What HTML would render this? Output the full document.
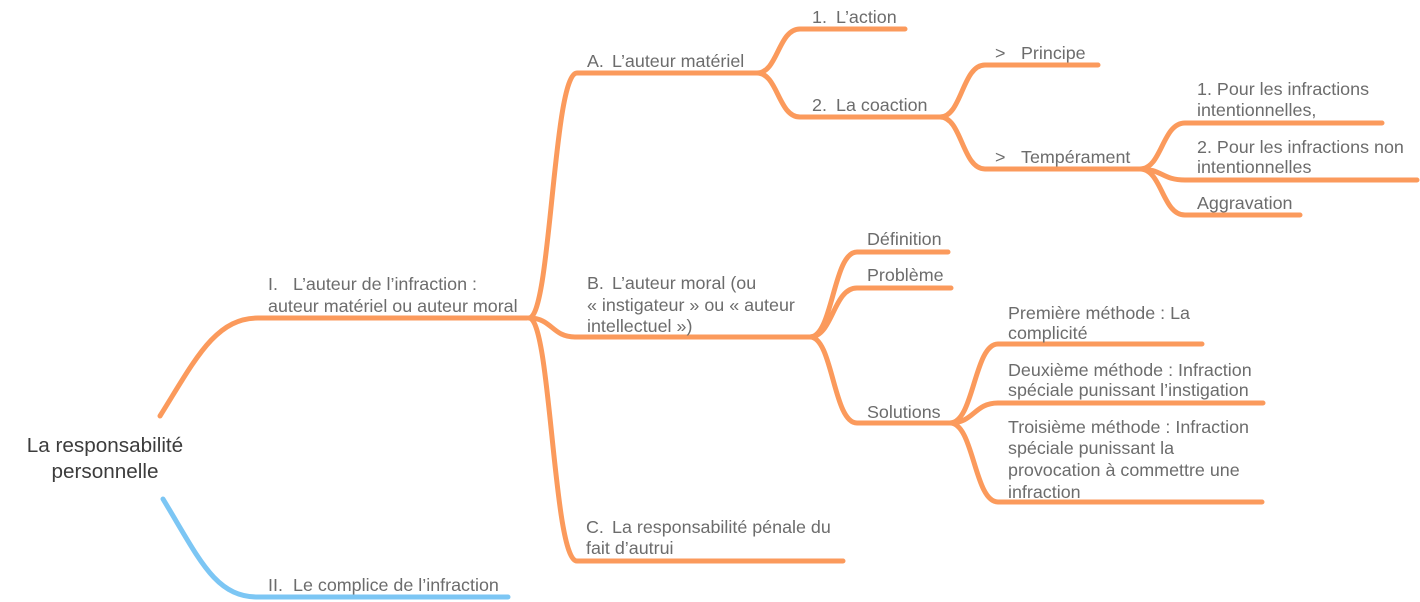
<!DOCTYPE html>
<html><head><meta charset="utf-8"><style>
html,body{margin:0;padding:0;background:#fff;}
svg{display:block;}
text{font-family:"Liberation Sans",Arial,sans-serif;font-size:17.9px;fill:#6c6c6c;}
.root{font-size:20.7px;fill:#3c3c3c;}
</style></head><body>
<svg width="1420" height="602" viewBox="0 0 1420 602" xmlns="http://www.w3.org/2000/svg">
<g fill="none" stroke="#fb9a5c" stroke-width="5" stroke-linecap="round">
<path d="M160,416 C195,360 215,318 258,318 L527,318"/>
<path d="M529,318 C551,318 553,73 577,73 L757,73"/>
<path d="M529,318 C552,318 552,337 575,337 L810,337"/>
<path d="M529,318 C551,318 553,561 577,561 L843,561"/>
<path d="M757,73 C778,73 778,29 800,29 L905,29"/>
<path d="M757,73 C778,73 778,117 800,117 L940,117"/>
<path d="M940,117 C962,117 962,65 985,65 L1098,65"/>
<path d="M940,117 C962,117 962,169 985,169 L1140,169"/>
<path d="M1140,169 C1162,169 1162,123 1185,123 L1382,123"/>
<path d="M1140,169 C1162,169 1162,180 1185,180 L1417,180"/>
<path d="M1140,169 C1162,169 1162,215 1185,215 L1300,215"/>
<path d="M810,337 C833,337 833,252 857,252 L948,252"/>
<path d="M810,337 C833,337 833,288 857,288 L951,288"/>
<path d="M810,337 C833,337 833,423 857,423 L950,423"/>
<path d="M950,423 C974,423 974,344 998,344 L1202,344"/>
<path d="M950,423 C974,423 974,403 998,403 L1263,403"/>
<path d="M950,423 C974,423 974,502 998,502 L1262,502"/>
</g>
<path d="M163,499 C200,560 215,597 258,597 L508,597" fill="none" stroke="#7cc6f4" stroke-width="5" stroke-linecap="round"/>

<text class="root" x="105" y="452" text-anchor="middle">La responsabilité</text>
<text class="root" x="105" y="478" text-anchor="middle">personnelle</text>

<text x="268" y="290">I.</text><text x="293" y="290">L’auteur de l’infraction :</text>
<text x="268" y="312">auteur matériel ou auteur moral</text>

<text x="268" y="591">II.</text><text x="293" y="591">Le complice de l’infraction</text>

<text x="587" y="67">A.</text><text x="612" y="67">L’auteur matériel</text>

<text x="812" y="23">1.</text><text x="836" y="23">L’action</text>
<text x="812" y="111">2.</text><text x="836" y="111">La coaction</text>

<text x="995" y="59">&gt;</text><text x="1021" y="59">Principe</text>
<text x="995" y="163">&gt;</text><text x="1021" y="163">Tempérament</text>

<text x="1197" y="95">1. Pour les infractions</text>
<text x="1197" y="116">intentionnelles,</text>
<text x="1197" y="153">2. Pour les infractions non</text>
<text x="1197" y="173">intentionnelles</text>
<text x="1197" y="209">Aggravation</text>

<text x="587" y="289">B.</text><text x="612" y="289">L’auteur moral (ou</text>
<text x="587" y="311">« instigateur » ou « auteur</text>
<text x="587" y="332">intellectuel »)</text>

<text x="867" y="245">Définition</text>
<text x="867" y="281">Problème</text>
<text x="867" y="418">Solutions</text>

<text x="1008" y="319">Première méthode : La</text>
<text x="1008" y="339">complicité</text>
<text x="1008" y="376">Deuxième méthode : Infraction</text>
<text x="1008" y="396">spéciale punissant l’instigation</text>
<text x="1008" y="433">Troisième méthode : Infraction</text>
<text x="1008" y="454">spéciale punissant la</text>
<text x="1008" y="476">provocation à commettre une</text>
<text x="1008" y="498">infraction</text>

<text x="586" y="533">C.</text><text x="612" y="533">La responsabilité pénale du</text>
<text x="586" y="554">fait d’autrui</text>
</svg>
</body></html>
